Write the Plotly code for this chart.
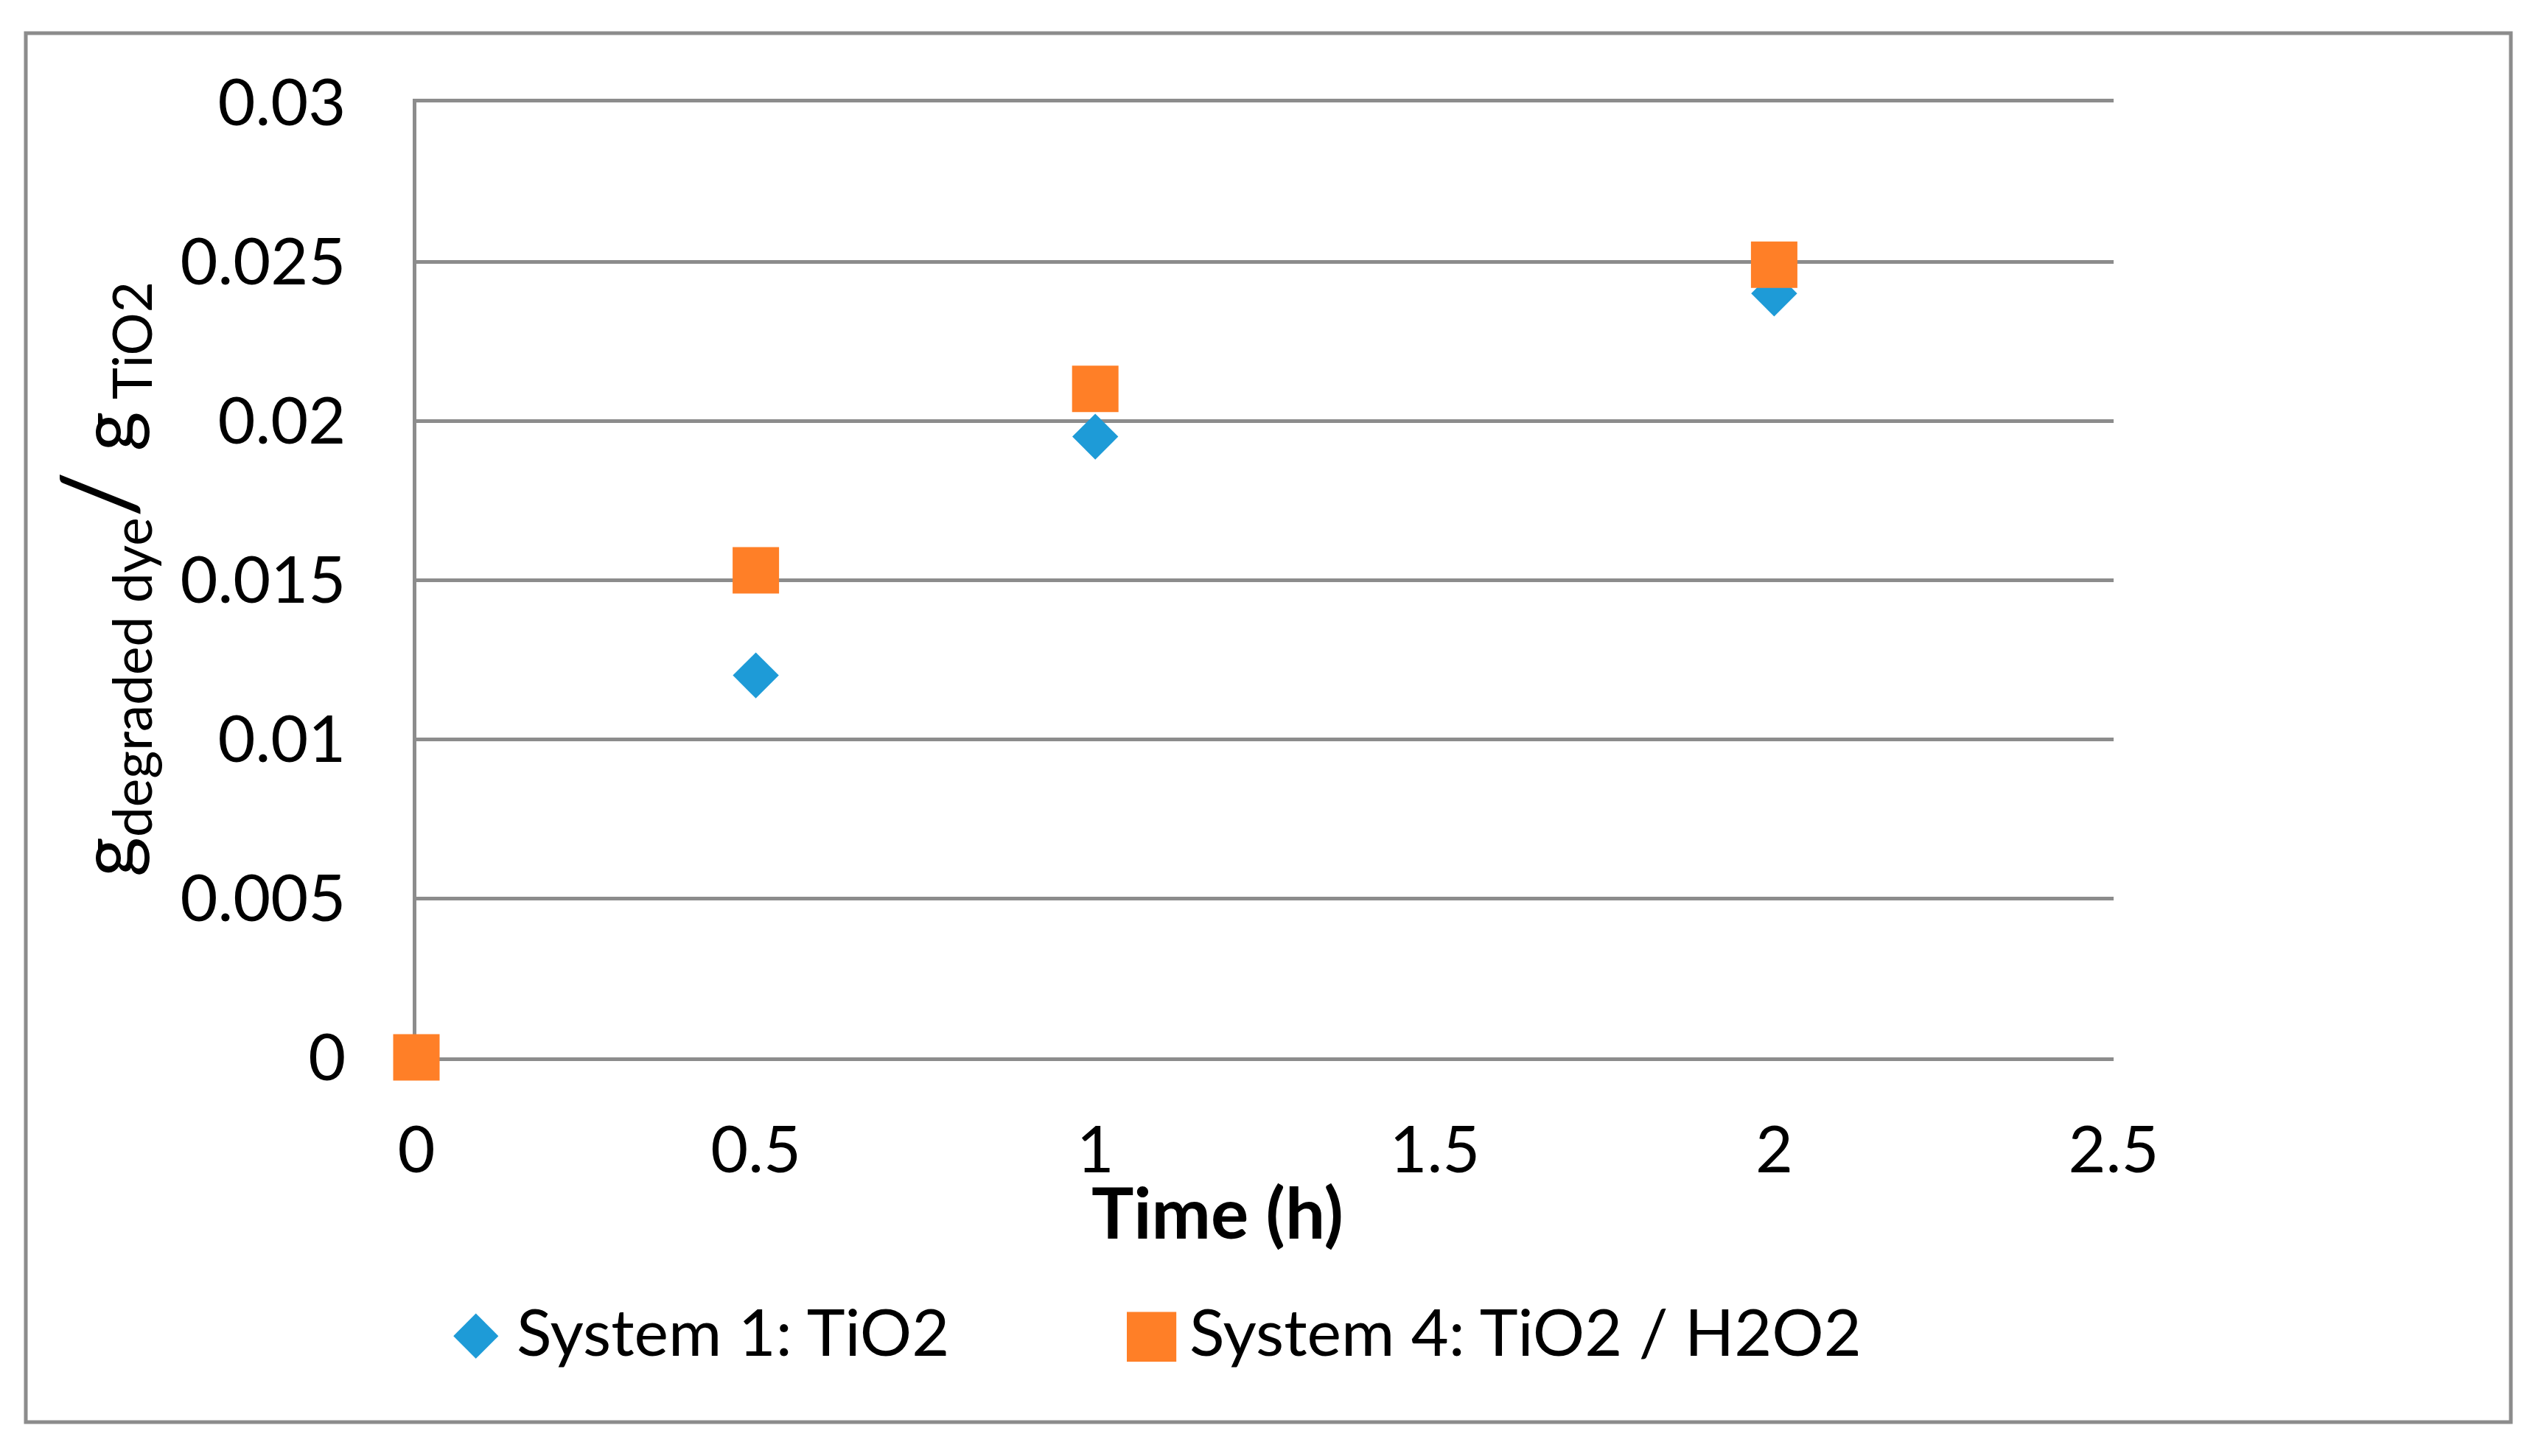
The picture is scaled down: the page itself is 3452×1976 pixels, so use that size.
import plotly.graph_objects as go

# ---- data ----
time_h = [0, 0.5, 1, 2]
system1_tio2 = [0, 0.012, 0.0195, 0.024]
system4_tio2_h2o2 = [0, 0.0153, 0.021, 0.0249]
series_names = ["System 1: TiO2", "System 4: TiO2 / H2O2"]
series_colors = ["#1E9BD7", "#FF7F27"]
x_tick_vals = [0, 0.5, 1, 1.5, 2, 2.5]
x_tick_text = ["0", "0.5", "1", "1.5", "2", "2.5"]
y_tick_vals = [0, 0.005, 0.01, 0.015, 0.02, 0.025, 0.03]
y_tick_text = ["0", "0.005", "0.01", "0.015", "0.02", "0.025", "0.03"]
x_title = "<b>Time (h)</b>"
y_title = "g<sub>degraded dye</sub><span style='font-size:140px'>/</span> g<sub> TiO2</sub>"

# ---- layout constants ----
W, H = 3452, 1976
L, R, T, B = 565, 584, 139, 541
PW, PH = W - L - R, H - T - B
FONT = "Lato"
GRID = "#8C8C8C"
FS = 88


def px(xp):
    return (xp - L) / PW


def py(yp):
    return (H - B - yp) / PH


fig = go.Figure()
fig.add_trace(go.Scatter(
    x=time_h, y=system1_tio2, mode="markers", name=series_names[0],
    marker=dict(symbol="diamond", size=48, color=series_colors[0]),
    cliponaxis=False, showlegend=False))
fig.add_trace(go.Scatter(
    x=time_h, y=system4_tio2_h2o2, mode="markers", name=series_names[1],
    marker=dict(symbol="square", size=63, color=series_colors[1]),
    cliponaxis=False, showlegend=False))

annotations = [
    dict(text=y_title, x=px(134), y=py(786), xref="paper", yref="paper",
         textangle=-90, showarrow=False, xanchor="center", yanchor="middle",
         font=dict(family=FONT, size=104, color="black")),
    dict(text=x_title, x=px(1652), y=py(1643), xref="paper", yref="paper",
         showarrow=False, xanchor="center", yanchor="middle",
         font=dict(family=FONT, size=96, color="black")),
]
# legend (symbol glyph + label)
legend_y = py(1806)
legend_sym = ["\u25C6", "\u25A0"]
legend_sym_size = [80, 88]
legend_sym_x = [646, 1562]
legend_txt_x = [699, 1612]
for i in range(2):
    annotations.append(dict(
        text=legend_sym[i], x=px(legend_sym_x[i]), y=legend_y, xref="paper", yref="paper",
        showarrow=False, xanchor="center", yanchor="middle",
        font=dict(family="DejaVu Sans", size=legend_sym_size[i], color=series_colors[i])))
    annotations.append(dict(
        text=series_names[i], x=px(legend_txt_x[i]), y=legend_y, xref="paper", yref="paper",
        showarrow=False, xanchor="left", yanchor="middle",
        font=dict(family=FONT, size=FS, color="black")))

fig.update_layout(
    width=W, height=H,
    margin=dict(l=L, r=R, t=T, b=B, pad=0),
    paper_bgcolor="white", plot_bgcolor="white",
    showlegend=False,
    font=dict(family=FONT, size=FS, color="black"),
    xaxis=dict(range=[0, 2.5], tickmode="array", tickvals=x_tick_vals, ticktext=x_tick_text,
               showgrid=False, zeroline=False, showline=True, mirror=True,
               linecolor=GRID, linewidth=4.5, ticks="", layer="below traces",
               ticklabelstandoff=46, tickfont=dict(family=FONT, size=FS, color="black")),
    yaxis=dict(range=[0, 0.03], tickmode="array", tickvals=y_tick_vals, ticktext=y_tick_text,
               showgrid=True, gridcolor=GRID, gridwidth=4.5, zeroline=False,
               showline=True, linecolor=GRID, linewidth=5, ticks="", layer="below traces",
               ticklabelstandoff=73, tickfont=dict(family=FONT, size=FS, color="black")),
    annotations=annotations,
    shapes=[dict(type="rect", xref="paper", yref="paper",
                 x0=px(35), x1=px(3407), y0=py(1930), y1=py(45),
                 line=dict(color=GRID, width=5), fillcolor="rgba(0,0,0,0)", layer="below")],
)

fig.write_html("out.html", config={"displayModeBar": False},
               post_script="document.body.style.margin='0';")
